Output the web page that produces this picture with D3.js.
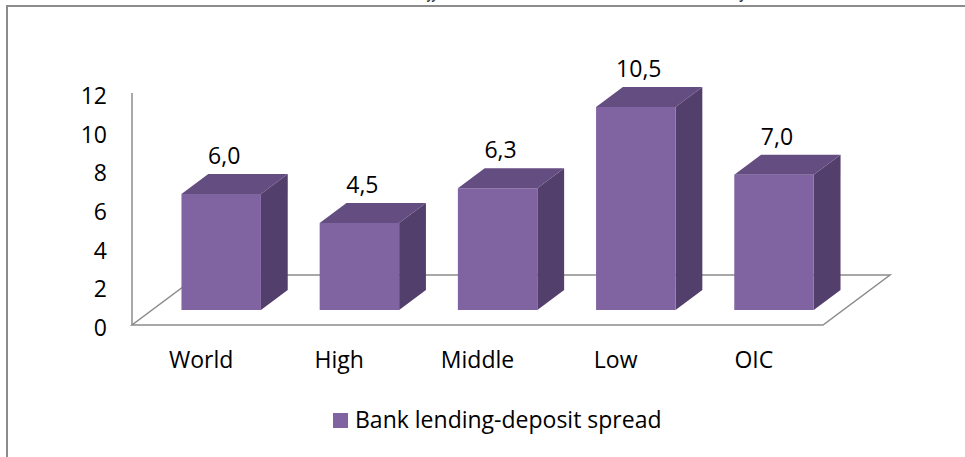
<!DOCTYPE html>
<html>
<head>
<meta charset="utf-8">
<script src="https://cdn.jsdelivr.net/npm/d3@7"></script>
<style>
  html, body { margin: 0; padding: 0; background: #fff; }
  svg { display: block; }
  text { font-family: "Open Sans", "Noto Sans", sans-serif; fill: #000; }
</style>
</head>
<body>
<svg id="chart" width="965" height="457"></svg>
<script>
// Chart data
const categories = ["World", "High", "Middle", "Low", "OIC"];
const spreads = [6.0, 4.5, 6.3, 10.5, 7.0];
const yTicks = [0, 2, 4, 6, 8, 10, 12];
const seriesName = "Bank lending-deposit spread";
const chartTitle = "Chart 3: Bank Interest Rate Differential Across Income Class and OIC Country";

const W = 965, H = 457;
const svg = d3.select("#chart");
const fontSize = "23px";

const colors = {
  front: "#8064A2",
  top: "#644D80",
  side: "#523F6B",
  axis: "#8C8C8C",
  frame: "#8C8C8C"
};

// Plot geometry: front floor edge, and the receding depth vector of the 3D floor
const plot = { left: 132, right: 823, bottom: 325, top: 93 };
const depth = { x: 67, y: -50 };
const barDepthStart = 0.3, barDepthEnd = 0.7;

const y = d3.scaleLinear().domain([0, 12]).range([plot.bottom, plot.top]);
const x = d3.scaleBand().domain(categories).range([plot.left, plot.right]).padding(0);
const barW = x.bandwidth() * 0.575;

const fmt = v => d3.format(".1f")(v).replace(".", ",");

// Outer frame
svg.append("rect")
  .attr("x", 7).attr("y", 6)
  .attr("width", W + 20).attr("height", H + 20)
  .attr("fill", "none")
  .attr("stroke", colors.frame)
  .attr("stroke-width", 2);

// Title (runs off the top of the page)
svg.append("text")
  .attr("x", 228).attr("y", -3)
  .attr("textLength", 520)
  .attr("lengthAdjust", "spacingAndGlyphs")
  .style("font-style", "italic")
  .style("font-size", "22px")
  .style("fill", "#333")
  .text(chartTitle);

// Floor of the 3D plot
const floorPts = [
  [plot.left, plot.bottom],
  [plot.right, plot.bottom],
  [plot.right + depth.x, plot.bottom + depth.y],
  [plot.left + depth.x, plot.bottom + depth.y]
];
svg.append("polygon")
  .attr("points", floorPts.map(p => p.join(",")).join(" "))
  .attr("fill", "none")
  .attr("stroke", colors.axis)
  .attr("stroke-width", 1.5);

// Vertical axis line
svg.append("line")
  .attr("x1", plot.left).attr("x2", plot.left)
  .attr("y1", y(12)).attr("y2", y(0))
  .attr("stroke", colors.axis)
  .attr("stroke-width", 1.5);

// Y tick labels
svg.append("g")
  .selectAll("text")
  .data(yTicks)
  .join("text")
  .attr("x", 107)
  .attr("y", d => y(d) + 2)
  .attr("text-anchor", "end")
  .attr("dominant-baseline", "central")
  .style("font-size", fontSize)
  .text(d => d);

// Category labels along the front floor edge
svg.append("g")
  .selectAll("text")
  .data(categories)
  .join("text")
  .attr("x", d => x(d) + x.bandwidth() / 2)
  .attr("y", 368)
  .attr("text-anchor", "middle")
  .style("font-size", fontSize)
  .text(d => d);

// 3D bars
const bars = categories.map((c, i) => {
  const v = spreads[i];
  const x0 = x(c) + (x.bandwidth() - barW) / 2 + depth.x * barDepthStart;
  const x1 = x0 + barW;
  const yb = y(0) + depth.y * barDepthStart;
  const yt = y(v) + depth.y * barDepthStart;
  const dx = depth.x * (barDepthEnd - barDepthStart);
  const dy = depth.y * (barDepthEnd - barDepthStart);
  return { c, v, x0, x1, yb, yt, dx, dy };
});

const gBars = svg.append("g");
const pts = arr => arr.map(p => p.join(",")).join(" ");
bars.forEach(b => {
  const g = gBars.append("g");
  // side face
  g.append("polygon")
    .attr("points", pts([[b.x1, b.yb], [b.x1 + b.dx, b.yb + b.dy], [b.x1 + b.dx, b.yt + b.dy], [b.x1, b.yt]]))
    .attr("fill", colors.side);
  // top face
  g.append("polygon")
    .attr("points", pts([[b.x0, b.yt], [b.x1, b.yt], [b.x1 + b.dx, b.yt + b.dy], [b.x0 + b.dx, b.yt + b.dy]]))
    .attr("fill", colors.top);
  // front face
  g.append("rect")
    .attr("x", b.x0).attr("y", b.yt)
    .attr("width", b.x1 - b.x0).attr("height", b.yb - b.yt)
    .attr("fill", colors.front);
  // value label
  g.append("text")
    .attr("x", (b.x0 + b.x1) / 2 + 3)
    .attr("y", b.yt + b.dy - 10)
    .attr("text-anchor", "middle")
    .style("font-size", fontSize)
    .text(fmt(b.v));
});

// Legend
const legend = svg.append("g");
legend.append("rect")
  .attr("x", 333).attr("y", 413)
  .attr("width", 15).attr("height", 15)
  .attr("fill", colors.front);
legend.append("text")
  .attr("x", 355).attr("y", 428)
  .style("font-size", fontSize)
  .text(seriesName);
</script>
</body>
</html>
